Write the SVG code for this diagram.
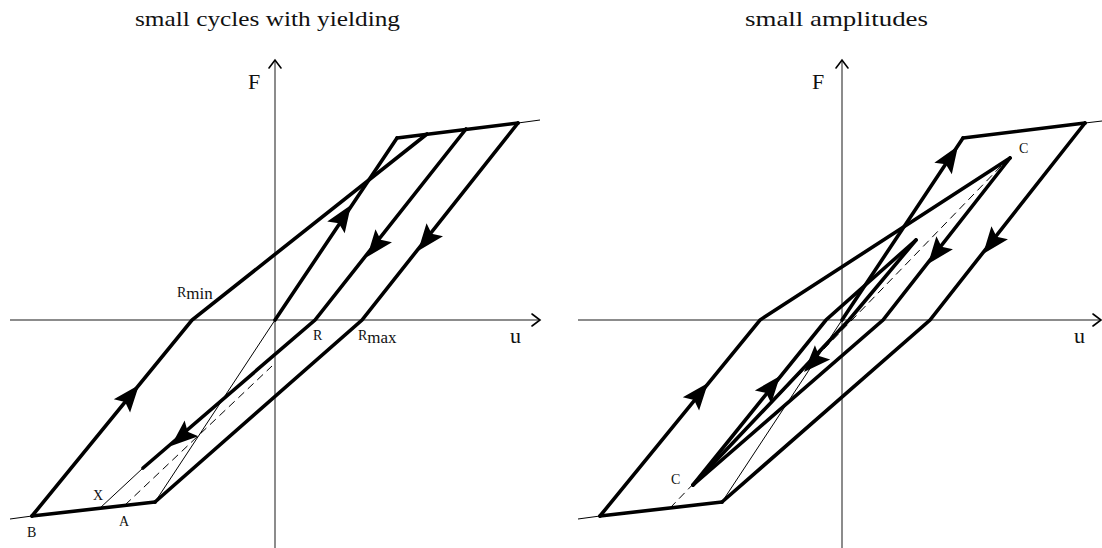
<svg xmlns="http://www.w3.org/2000/svg" xmlns:xlink="http://www.w3.org/1999/xlink" width="1102" height="548" viewBox="0 0 1102 548">
<style>
.title{font-family:"Liberation Serif","DejaVu Serif",serif;font-size:22px;fill:#111}
.ax{font-family:"Liberation Serif","DejaVu Serif",serif;font-size:22px;fill:#111}
.lb{font-family:"Liberation Serif","DejaVu Serif",serif;font-size:14px;fill:#111}
.sub{font-size:17px}
.axis{stroke:#666;stroke-width:1.5;fill:none}
.axh{stroke:#000;stroke-width:1.6;fill:none;stroke-linecap:round;stroke-linejoin:miter}
.thick{stroke:#000;stroke-width:3.6;fill:none;stroke-linecap:round;stroke-linejoin:miter}
.thin{stroke:#000;stroke-width:1;fill:none}
.dash{stroke:#000;stroke-width:1;fill:none;stroke-dasharray:8,5}
</style>
<defs>
<path id="ah" d="M0,0 L-27,-10.5 L-22,0 L-27,10.5 Z" fill="#000"/>
</defs>
<rect width="1102" height="548" fill="#fff"/>

<g id="left-panel">
  <text class="title" x="267.5" y="26" text-anchor="middle" textLength="265" lengthAdjust="spacingAndGlyphs">small cycles with yielding</text>
  <g id="left-axes">
    <line class="axis" x1="10" y1="320" x2="540" y2="320"/>
    <line class="axis" x1="275" y1="548" x2="275" y2="61"/>
    <polyline class="axh" points="532,314 540,320 532,326"/>
    <polyline class="axh" points="269,68 275,60 281,68"/>
    <text class="ax" x="248" y="89">F</text>
    <text class="ax" x="510" y="343">u</text>
  </g>
  <g id="left-curves">
    <line class="thin" x1="10" y1="519" x2="32" y2="516"/>
    <line class="thin" x1="518" y1="123" x2="540" y2="120"/>
    <polyline class="thick" points="32,516 155,502"/>
    <polyline class="thick" points="155,502 362,320 518,123"/>
    <polyline class="thick" points="397,138 518,123"/>
    <polyline class="thick" points="466,129 315,320 143,468"/>
    <line class="thin" x1="143" y1="468" x2="100" y2="508"/>
    <polyline class="thick" points="397,138 275,320"/>
    <line class="thin" x1="275" y1="320" x2="155" y2="502"/>
    <polyline class="thick" points="32,516 192,320 427,134"/>
    <line class="dash" x1="125" y1="505" x2="272" y2="366"/>
  </g>
  <g id="left-arrows">
    <use xlink:href="#ah" transform="translate(139,385) rotate(-50.8)"/>
    <use xlink:href="#ah" transform="translate(351,205) rotate(-56.2)"/>
    <use xlink:href="#ah" transform="translate(367,257) rotate(128.3)"/>
    <use xlink:href="#ah" transform="translate(418,251) rotate(128.4)"/>
    <use xlink:href="#ah" transform="translate(171,446) rotate(139.3)"/>
  </g>
  <g id="left-labels">
    <text class="lb" x="177" y="297">R<tspan class="sub" dy="2">min</tspan></text>
    <text class="lb" x="313" y="340">R</text>
    <text class="lb" x="358" y="340">R<tspan class="sub" dy="3">max</tspan></text>
    <text class="lb" x="93" y="500">X</text>
    <text class="lb" x="119" y="526">A</text>
    <text class="lb" x="27" y="537">B</text>
  </g>
</g>

<g id="right-panel">
  <text class="title" x="836.5" y="26" text-anchor="middle" textLength="183" lengthAdjust="spacingAndGlyphs">small amplitudes</text>
  <g id="right-axes">
    <line class="axis" x1="578" y1="320" x2="1100" y2="320"/>
    <line class="axis" x1="842" y1="548" x2="842" y2="61"/>
    <polyline class="axh" points="1093,314 1101,320 1093,326"/>
    <polyline class="axh" points="836,68 842,60 848,68"/>
    <text class="ax" x="812" y="89">F</text>
    <text class="ax" x="1074" y="343">u</text>
  </g>
  <g id="right-curves">
    <line class="thin" x1="578" y1="519" x2="600" y2="516"/>
    <line class="thin" x1="1085" y1="123" x2="1102" y2="121"/>
    <polyline class="thick" points="600,516 722,502"/>
    <polyline class="thick" points="722,502 930,320 1085,123"/>
    <polyline class="thick" points="963,138 1085,123"/>
    <polyline class="thick" points="963,138 842,320"/>
    <line class="thin" x1="842" y1="320" x2="722" y2="502"/>
    <polyline class="thick" points="600,516 760,320 1010,158"/>
    <polyline class="thick" points="1010,158 883,320 693,485"/>
    <polyline class="thick" points="693,485 826,320 916,240"/>
    <polyline class="thick" points="916,240 849,320 693,485"/>
    <line class="dash" x1="670" y1="508" x2="1004" y2="163"/>
  </g>
  <g id="right-arrows">
    <use xlink:href="#ah" transform="translate(958,146) rotate(-56.4)"/>
    <use xlink:href="#ah" transform="translate(928,264) rotate(128.1)"/>
    <use xlink:href="#ah" transform="translate(983,254) rotate(128.2)"/>
    <use xlink:href="#ah" transform="translate(804,372) rotate(133.4)"/>
    <use xlink:href="#ah" transform="translate(780,376) rotate(-51.1)"/>
    <use xlink:href="#ah" transform="translate(708,383) rotate(-50.8)"/>
  </g>
  <g id="right-labels">
    <text class="lb" x="1019" y="153">C</text>
    <text class="lb" x="671" y="484">C</text>
  </g>
</g>
</svg>
